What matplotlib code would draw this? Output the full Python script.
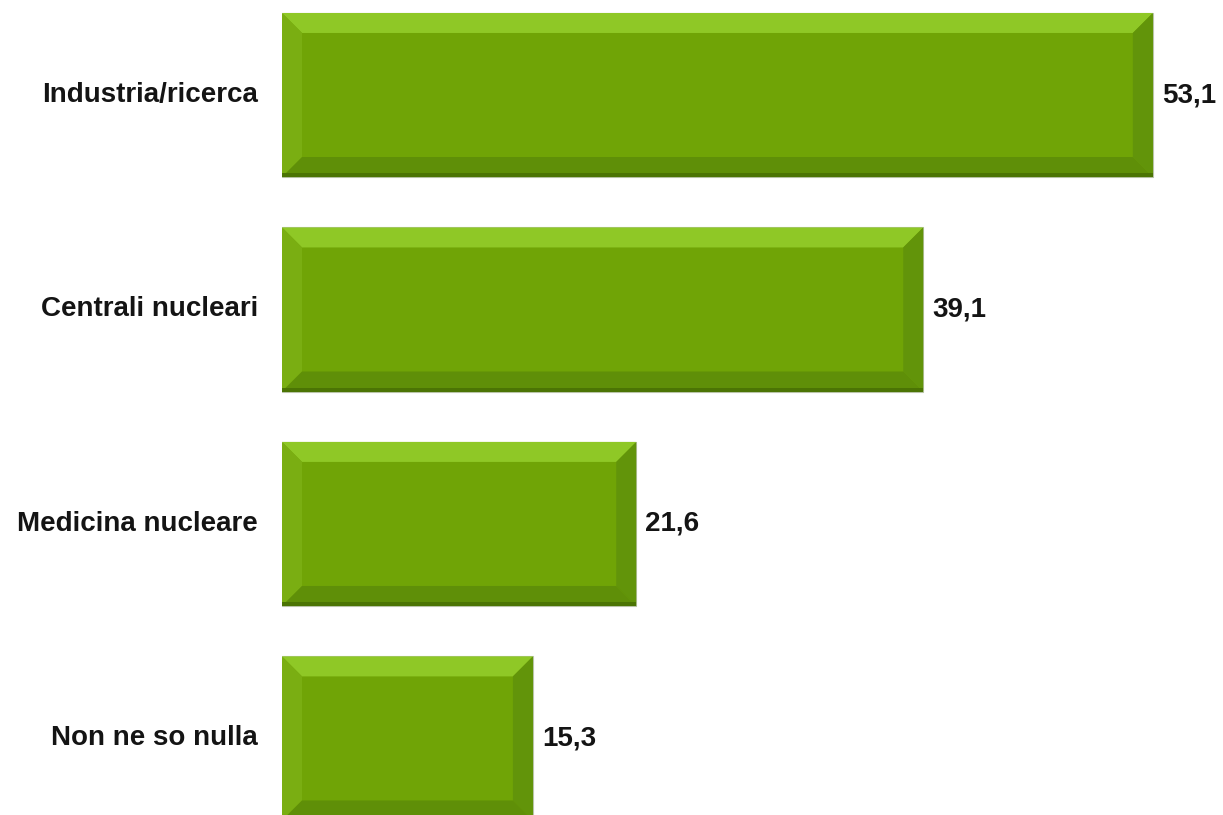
import matplotlib
matplotlib.use("Agg")
import matplotlib.pyplot as plt
from matplotlib.patches import Polygon
from matplotlib.transforms import IdentityTransform

categories = ["Industria/ricerca", "Centrali nucleari", "Medicina nucleare", "Non ne so nulla"]
values = [53.1, 39.1, 21.6, 15.3]
value_labels = ["53,1", "39,1", "21,6", "15,3"]

W, H = 1223, 815
fig = plt.figure(figsize=(W / 100, H / 100), dpi=100)
fig.patch.set_facecolor("white")
ax = fig.add_axes([282 / W, 0, 1 - 282 / W, 1])
ax.set_xlim(0, (W - 282) / 16.4)
ax.set_ylim(3.357, -0.443)
ax.axis("off")

main = "#70a406"
bars = ax.barh(range(len(categories)), values, height=0.765, color=main,
               edgecolor="#b9c4a8", linewidth=0.8, zorder=2)

bev = 20
for b in bars:
    (x0, y0), (x1, y1) = ax.transData.transform([(b.get_x(), b.get_y()),
                                                  (b.get_x() + b.get_width(), b.get_y() + b.get_height())])
    top, bot = max(y0, y1), min(y0, y1)
    left, right = min(x0, x1), max(x0, x1)
    polys = [
        ([(left, top), (right, top), (right - bev, top - bev), (left + bev, top - bev)], "#8fc826"),
        ([(left, top), (left + bev, top - bev), (left + bev, bot + bev), (left, bot)], "#7aae12"),
        ([(right, top), (right, bot), (right - bev, bot + bev), (right - bev, top - bev)], "#62940a"),
        ([(left, bot), (right, bot), (right - bev, bot + bev), (left + bev, bot + bev)], "#5f8f08"),
    ]
    for pts, c in polys:
        ax.add_patch(Polygon(pts, closed=True, facecolor=c, edgecolor="none",
                             transform=IdentityTransform(), zorder=3))
    ax.add_patch(Polygon([(left, bot), (right, bot), (right, bot + 4), (left, bot + 4)], closed=True,
                         facecolor="#4b7404", edgecolor="none", transform=IdentityTransform(), zorder=4))

for i, (cat, v, lab) in enumerate(zip(categories, values, value_labels)):
    ax.text(-24 / 16.4, i, cat, ha="right", va="center", fontsize=20, fontweight="bold",
            color="#141414", family=["Liberation Sans", "DejaVu Sans"], clip_on=False)
    ax.text(v + 9 / 16.4, i, lab, ha="left", va="center", fontsize=20, fontweight="bold",
            color="#141414", family=["Liberation Sans", "DejaVu Sans"], clip_on=False)

fig.savefig("out.png", dpi=100)
